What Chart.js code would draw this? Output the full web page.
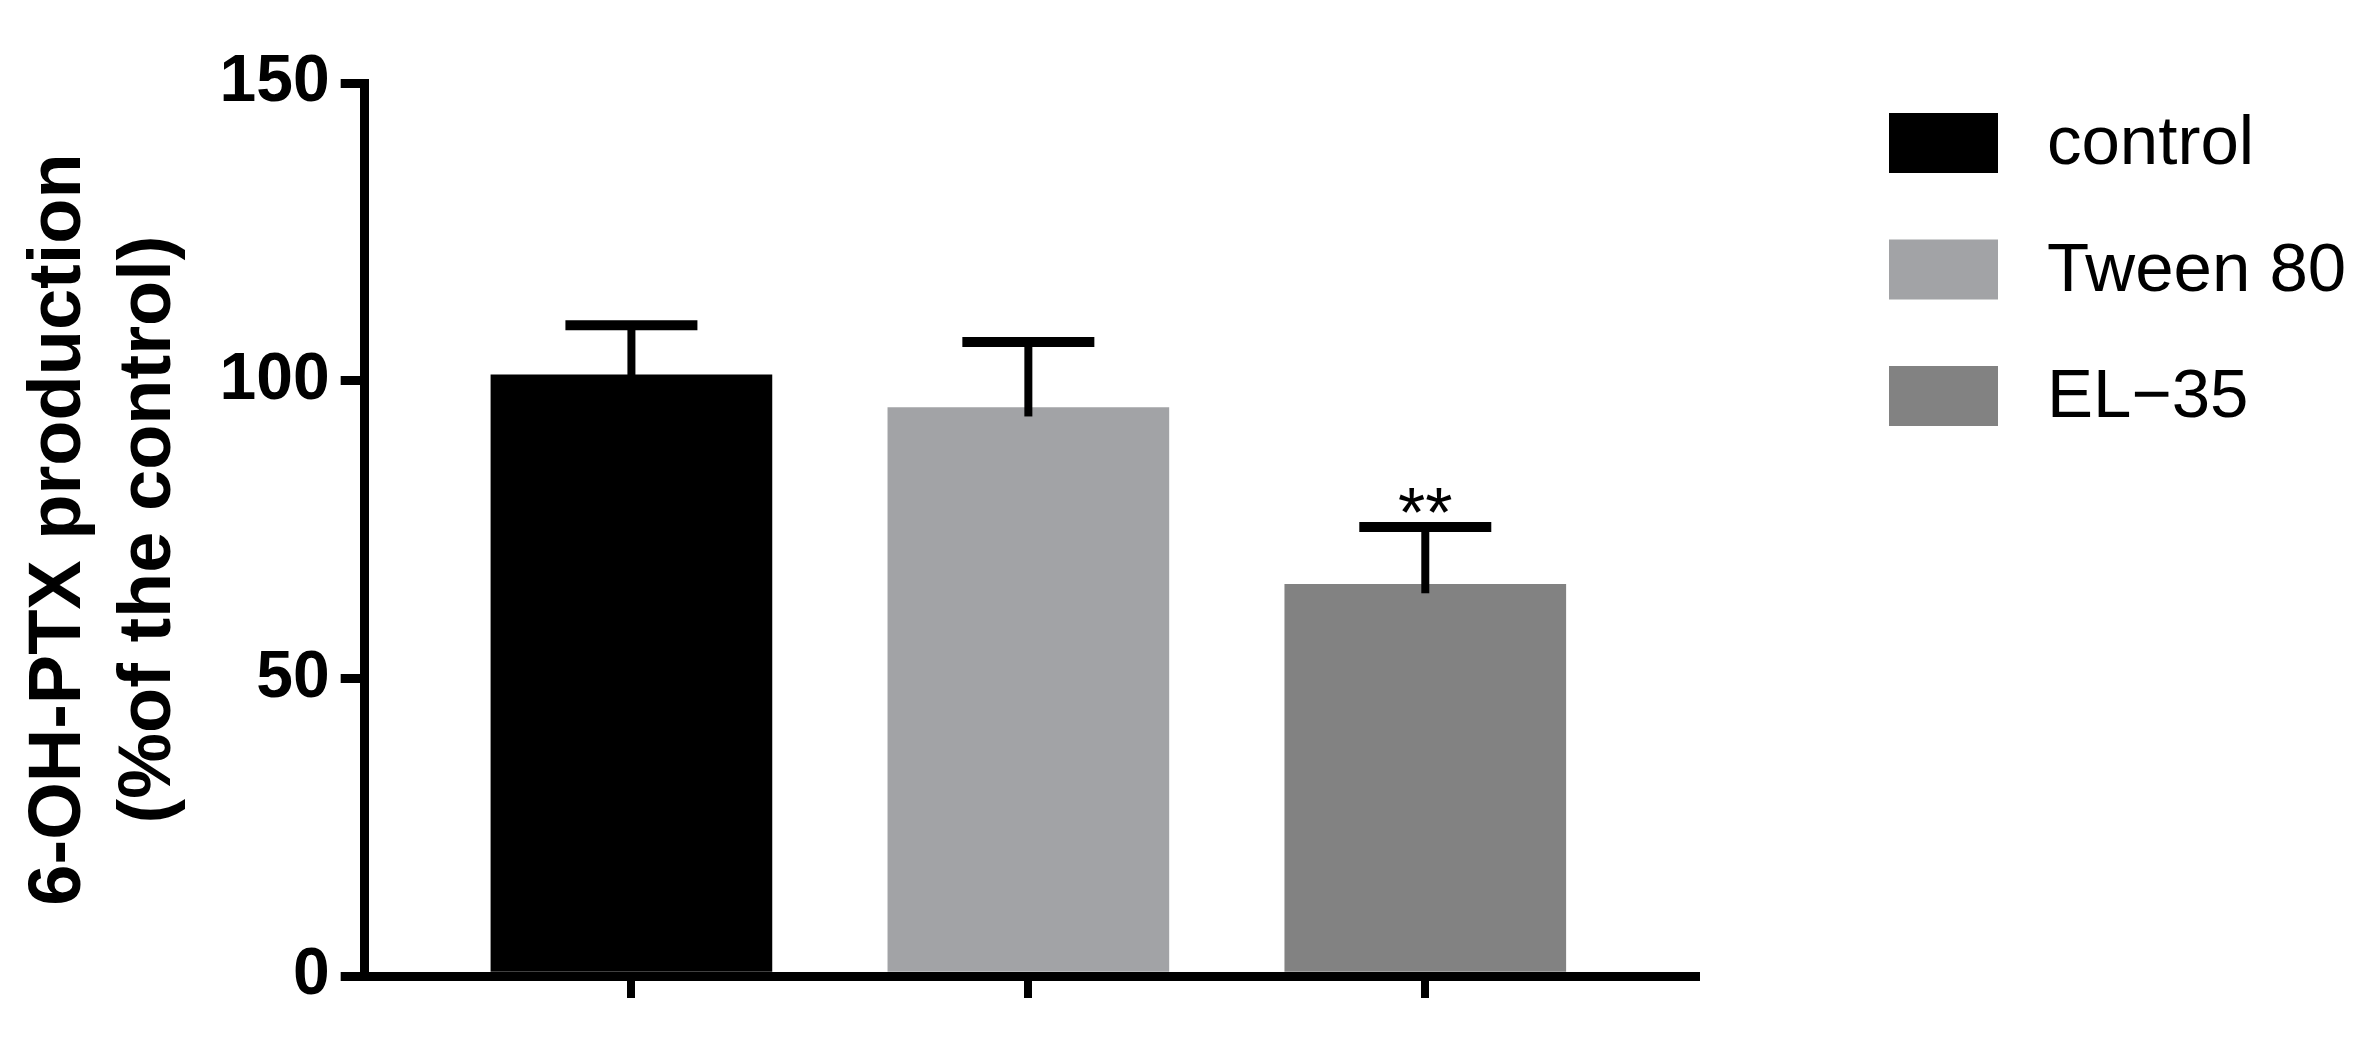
<!DOCTYPE html>
<html>
<head>
<meta charset="utf-8">
<script src="https://cdn.jsdelivr.net/npm/chart.js@4.4.1/dist/chart.umd.min.js"></script>
<style>
    html, body { margin: 0; padding: 0; background: #fff; }
    #wrap { width: 2379px; height: 1038px; }
</style>
</head>
<body>
<div id="wrap"><canvas id="chart"></canvas></div>
<script>
const categories = ['control', 'Tween 80', 'EL\u221235'];
const means = [101, 95.5, 65.8];
const errors = [8.3, 11, 9.6];
const significance = ['', '', '**'];
const colors = ['#000000', '#a2a3a6', '#828282'];
const yTicks = [0, 50, 100, 150];

const fontFamily = "'Liberation Sans', Arial, Helvetica, sans-serif";

// error bars (upper only) + stars, placed through the chart scales
const errorBars = {
    id: 'errorBars',
    afterDatasetsDraw(chart) {
        const ctx = chart.ctx;
        const x = chart.scales.x;
        const y = chart.scales.y;
        ctx.save();
        ctx.strokeStyle = '#000';
        ctx.lineCap = 'butt';
        means.forEach((m, i) => {
            const px = x.getPixelForValue(i);
            const yMean = y.getPixelForValue(m);
            const yTop = y.getPixelForValue(m + errors[i]);
            ctx.lineWidth = 8;
            ctx.beginPath();
            ctx.moveTo(px, yMean + 9);
            ctx.lineTo(px, yTop);
            ctx.stroke();
            ctx.lineWidth = 10;
            ctx.beginPath();
            ctx.moveTo(px - 66, yTop);
            ctx.lineTo(px + 66, yTop);
            ctx.stroke();
            if (significance[i]) {
                ctx.fillStyle = '#000';
                ctx.font = '70px ' + fontFamily;
                ctx.textAlign = 'center';
                ctx.textBaseline = 'alphabetic';
                ctx.fillText(significance[i], px, yTop + 10);
            }
        });
        ctx.restore();
    }
};

// legend on the right, squares + labels
const sideLegend = {
    id: 'sideLegend',
    afterDraw(chart) {
        const ctx = chart.ctx;
        const left = chart.chartArea.right + 193;
        ctx.save();
        ctx.font = '69px ' + fontFamily;
        ctx.textBaseline = 'middle';
        ctx.textAlign = 'left';
        categories.forEach((c, i) => {
            const top = 113 + i * 126.5;
            ctx.fillStyle = colors[i];
            ctx.fillRect(left, top, 109, 60);
            ctx.fillStyle = '#000';
            ctx.fillText(c, left + 158, top + 32);
        });
        ctx.restore();
    }
};

new Chart(document.getElementById('chart'), {
    type: 'bar',
    data: {
        datasets: [{
            data: means.map((m, i) => ({x: i, y: m})),
            backgroundColor: colors,
            borderWidth: 0,
            barThickness: 281
        }]
    },
    options: {
        responsive: true,
        maintainAspectRatio: false,
        animation: false,
        layout: {
            padding: {left: 0, top: 83, right: 683, bottom: 40}
        },
        plugins: {
            legend: {display: false},
            tooltip: {enabled: false}
        },
        scales: {
            x: {
                type: 'linear',
                min: -0.672,
                max: 2.682,
                offset: false,
                afterBuildTicks: (scale) => {
                    scale.ticks = categories.map((c, i) => ({value: i}));
                },
                grid: {
                    offset: false,
                    drawOnChartArea: false,
                    drawTicks: true,
                    tickLength: 22,
                    lineWidth: 8,
                    color: '#000'
                },
                border: {display: true, color: '#000', width: 9, z: 1},
                ticks: {display: false}
            },
            y: {
                min: 0,
                max: 150,
                afterBuildTicks: (scale) => {
                    scale.ticks = yTicks.map(v => ({value: v}));
                },
                grid: {
                    drawOnChartArea: false,
                    drawTicks: true,
                    tickLength: 24,
                    lineWidth: 9,
                    color: '#000'
                },
                border: {display: true, color: '#000', width: 9, z: 1},
                ticks: {
                    color: '#000',
                    padding: 11,
                    font: {family: fontFamily, size: 66, weight: 'bold'}
                },
                title: {
                    display: true,
                    text: ['6-OH-PTX production', '(%of the control)'],
                    color: '#000',
                    padding: {top: 14, bottom: 14},
                    font: {family: fontFamily, size: 74, weight: 'bold', lineHeight: 1.22}
                }
            }
        }
    },
    plugins: [errorBars, sideLegend]
});
</script>
</body>
</html>
